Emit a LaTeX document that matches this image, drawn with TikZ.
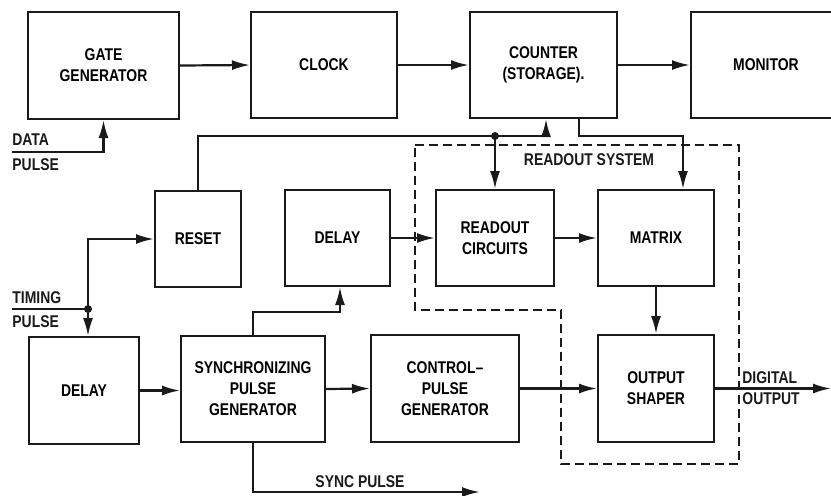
\documentclass[tikz,border=0pt]{standalone}
\usepackage{fontspec}
\setmainfont{Liberation Sans}[FakeStretch=0.82]
\usetikzlibrary{arrows.meta,positioning}
\definecolor{Ink}{HTML}{1A1A1A}
\newcommand{\Blk}[6]{%
  \node[blk,minimum width={(#4-#2)*0.5pt},minimum height={(#5-#3)*0.5pt}] (#1) at ({(#2+#4)/2},{(#3+#5)/2}) {#6};%
}
\newcommand{\Dot}[1]{\fill[Ink] (#1) circle (2pt);}

\begin{document}
\begin{tikzpicture}[x=0.5pt,y=-0.5pt,
  blk/.style={draw=Ink,line width=1pt,align=center,inner sep=0pt,font=\bfseries\fontsize{8.5}{10.5}\selectfont},
  sig/.style={draw=Ink,line width=1.1pt,-{Latex[length=9pt,width=5pt]}},
  wire/.style={draw=Ink,line width=1.1pt},
  lbl/.style={font=\bfseries\fontsize{8.5}{10.5}\selectfont,text=Ink,inner sep=0pt}]
\useasboundingbox (0,0) rectangle (831,495);
\clip (0,0) rectangle (831,495);
% blocks
\Blk{gate}{28}{12}{179}{119}{GATE\\GENERATOR}
\Blk{clock}{251}{12}{397}{118}{CLOCK}
\Blk{counter}{470}{12}{617}{118}{COUNTER\\(STORAGE).}
\Blk{monitor}{691}{12}{841}{118}{MONITOR}
\Blk{reset}{155}{191}{241}{287}{RESET}
\Blk{dlyA}{285}{190}{390}{286}{DELAY}
\Blk{readout}{436}{190}{554}{286}{READOUT\\CIRCUITS}
\Blk{matrix}{598}{190}{714}{286}{MATRIX}
\Blk{dlyB}{29}{337}{139}{444}{DELAY}
\Blk{sync}{181}{336}{325}{442}{SYNCHRONIZING\\PULSE\\GENERATOR}
\Blk{ctrl}{371}{335}{519}{442}{CONTROL--\\PULSE\\GENERATOR}
\Blk{shaper}{598}{335}{714}{442}{OUTPUT\\SHAPER}
% readout system outline
\draw[Ink,line width=1pt,dash pattern=on 4.5pt off 2.5pt]
  (415,145) -- (739,145) -- (739,464) -- (561,464) -- (561,310) -- (415,310) -- cycle;
\node[lbl] (rosys) at (589,160) {READOUT SYSTEM};
% inputs and outputs
\coordinate (datain) at (12,152);
\coordinate (timein) at (12,309);
\coordinate (tj) at (88,309);
\coordinate (digout) at (831,389);
\coordinate (syncout) at (480,492);
\node[lbl,anchor=west] (datalbl) at (12,140) {DATA};
\node[lbl,anchor=west] (datalblb) at (12,165) {PULSE};
\node[lbl,anchor=west] (timelbl) at (12,298) {TIMING};
\node[lbl,anchor=west] (timelblb) at (12,322) {PULSE};
\node[lbl,anchor=west] (diglbl) at (742,378) {DIGITAL};
\node[lbl,anchor=west] (diglblb) at (742,399) {OUTPUT};
\node[lbl] (synclbl) at (360,482) {SYNC PULSE};
% top row
\draw[sig] (gate.east) -- (clock.west);
\draw[sig] (clock.east) -- (counter.west);
\draw[sig] (counter.east) -- (monitor.west);
\draw[sig] (datain) -| (gate.south);
% reset and counter bus
\coordinate (cbus) at (546,136);
\coordinate (rj) at (495,136);
\coordinate (mbus) at (579,136);
\coordinate (mdrop) at (683,136);
\draw[sig] (reset.north) |- (cbus) -- (cbus |- counter.south);
\Dot{rj}
\draw[sig] (rj) -- (rj |- readout.north);
\draw[sig] (mbus |- counter.south) -- (mbus) -- (mdrop) -- (mdrop |- matrix.north);
% timing
\draw[wire] (timein) -- (tj);
\Dot{tj}
\draw[sig] (tj) |- (reset.west);
\draw[sig] (tj) -- (tj |- dlyB.north);
% middle row
\draw[sig] (dlyA.east) -- (readout.west);
\draw[sig] (readout.east) -- (matrix.west);
\draw[sig] (matrix.south) -- (shaper.north);
\coordinate (sj) at (340,312);
\draw[sig] (sync.north) |- (sj) -- (sj |- dlyA.south);
% bottom row
\draw[sig] (dlyB.east) -- (dlyB.east -| sync.west);
\draw[sig] (sync.east) -- (ctrl.west);
\draw[sig] (ctrl.east) -- (shaper.west);
\draw[sig] (shaper.east) -- (shaper.east -| digout);
\draw[sig] (sync.south) |- (syncout);
\end{tikzpicture}
\end{document}
